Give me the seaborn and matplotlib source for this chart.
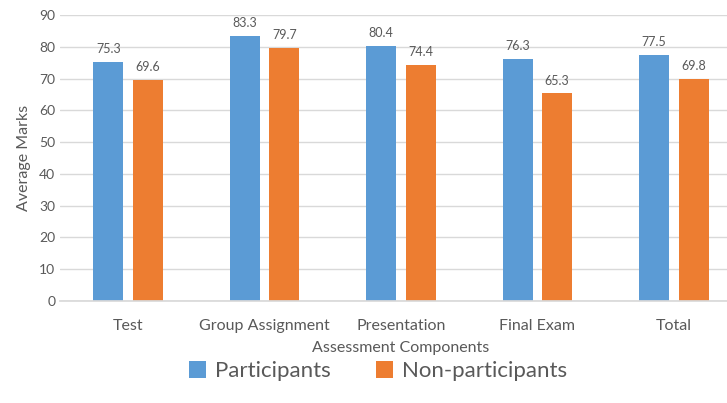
import pandas as pd
import matplotlib
matplotlib.use("Agg")
import matplotlib.pyplot as plt
import seaborn as sns

# values
components = ["Test", "Group Assignment", "Presentation", "Final Exam", "Total"]
participants = [75.3, 83.3, 80.4, 76.3, 77.5]
non_participants = [69.6, 79.7, 74.4, 65.3, 69.8]
groups = ["Participants", "Non-participants"]
colors = ["#5B9BD5", "#ED7D31"]

df = pd.DataFrame({
    "Assessment Components": components * 2,
    "Average Marks": participants + non_participants,
    "Group": [groups[0]] * len(components) + [groups[1]] * len(components),
})

sns.set_theme(style="white")
plt.rcParams["font.family"] = ["Lato", "DejaVu Sans"]
grey = "#595959"

fig = plt.figure(figsize=(7.27, 4.03), dpi=100)
ax = fig.add_axes([60 / 727, 102 / 403, 682 / 727, 286 / 403])

sns.barplot(data=df, x="Assessment Components", y="Average Marks", hue="Group",
            palette=colors, saturation=1, width=0.58, gap=0.24, linewidth=0,
            ax=ax, legend=True)

for cont in ax.containers:
    ax.bar_label(cont, fmt="%.1f", padding=5, fontsize=9, color=grey)

ax.set_ylim(0, 90)
ax.set_xlim(-0.5, 4.5)
ax.set_yticks(range(0, 91, 10))
ax.yaxis.grid(True, color="#D9D9D9", linewidth=1)
ax.set_axisbelow(True)
for s in ["top", "right", "left"]:
    ax.spines[s].set_visible(False)
ax.spines["bottom"].set_color("#D9D9D9")
ax.tick_params(axis="both", length=0, colors=grey, labelsize=10)
ax.tick_params(axis="x", labelsize=11.5, pad=13)
ax.set_xlabel("Assessment Components", color=grey, fontsize=11.5, labelpad=6)
ax.set_ylabel("Average Marks", color=grey, fontsize=11.5, labelpad=6)

handles, labels = ax.get_legend_handles_labels()
ax.get_legend().remove()
fig.legend(handles, labels, loc="center", bbox_to_anchor=(378 / 727, 1 - 371 / 403),
           ncol=2, frameon=False, fontsize=16, labelcolor=grey,
           handlelength=0.8, handleheight=0.8, handletextpad=0.4, columnspacing=2.0)

fig.savefig("out.png", dpi=100)
